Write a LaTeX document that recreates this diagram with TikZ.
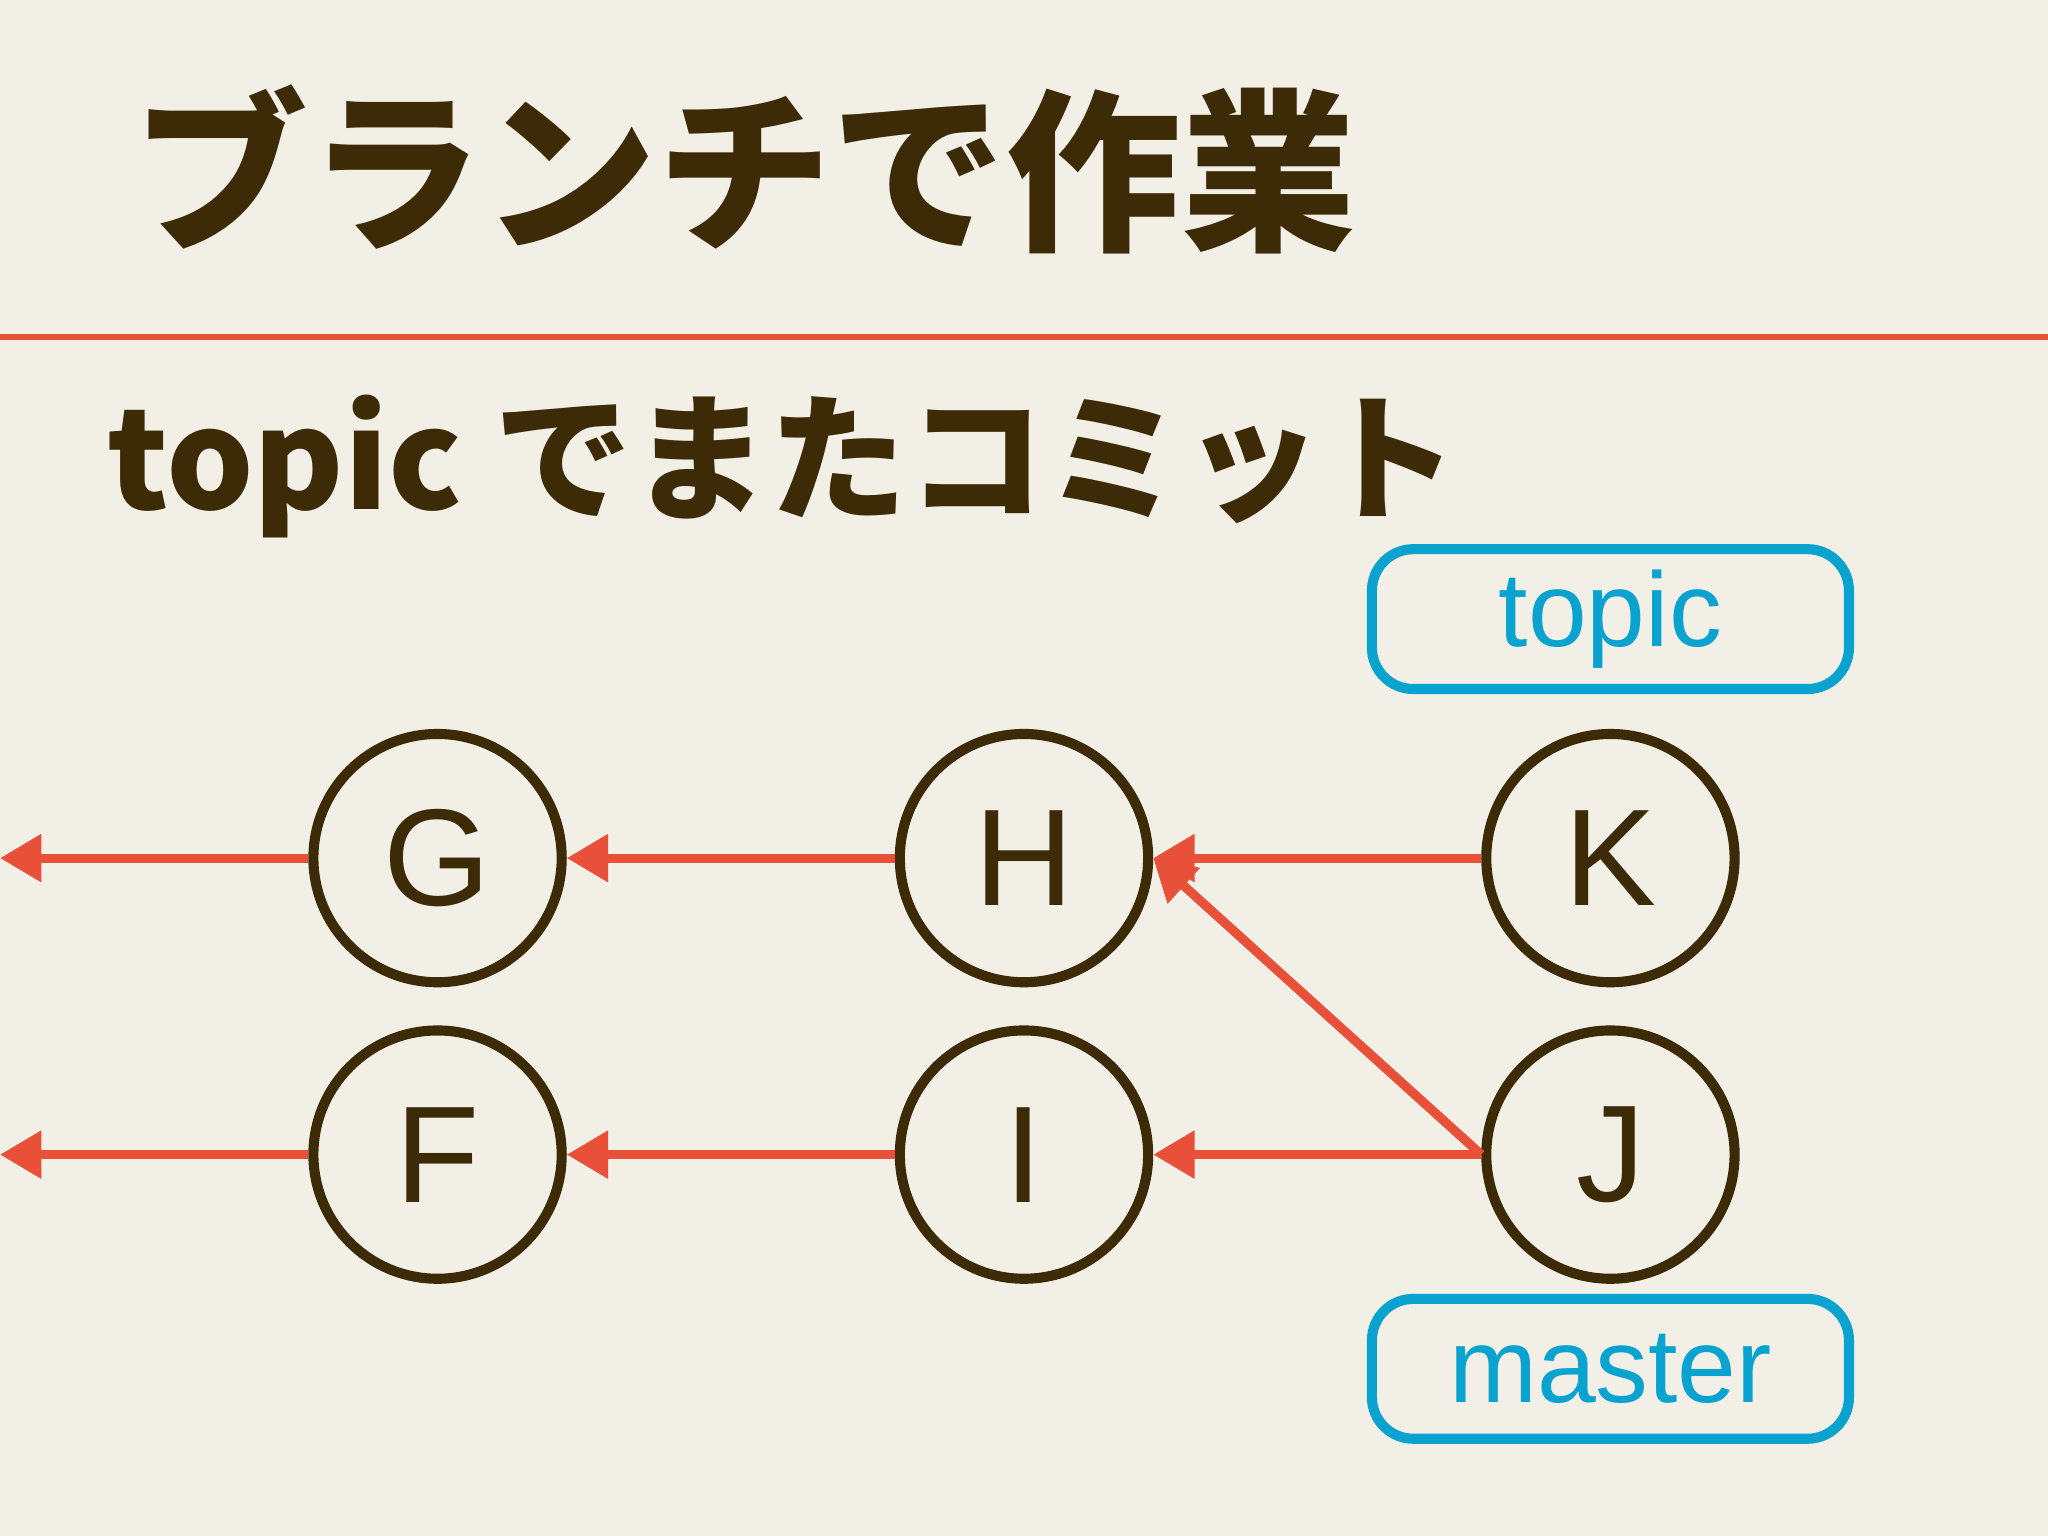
\documentclass[tikz,border=0pt]{standalone}
\usepackage{fontspec}
\setmainfont{Liberation Sans}
\newfontfamily\cjk{Noto Sans CJK JP}
\usetikzlibrary{arrows.meta}
\definecolor{bg}{HTML}{F2F0E6}
\definecolor{ink}{HTML}{3D2B08}
\definecolor{rd}{HTML}{E8503A}
\definecolor{bl}{HTML}{0AA3CF}
\begin{document}
\begin{tikzpicture}[x=0.01cm,y=-0.01cm,
  commit/.style={circle,draw=ink,line width=2.2pt,minimum size=1.9cm,inner sep=0pt,font=\fontsize{30}{30}\selectfont,text=ink},
  edge/.style={draw=rd,line width=2pt,-{Triangle[length=9pt,width=10pt]}},
  label/.style={draw=bl,line width=2.2pt,rounded corners=9pt,minimum width=3.65cm,minimum height=1.07cm,text=bl,font=\fontsize{23}{23}\selectfont}]
\fill[bg] (0,0) rectangle (1568,1176);
\useasboundingbox (0,0) rectangle (1568,1176);
\node[anchor=west,text=ink,font=\cjk\bfseries\fontsize{38}{38}\selectfont] (title) at (90,130) {ブランチで作業};
\draw[rd,line width=1.3pt] (0,258) -- (1568,258);
\node[anchor=west,text=ink,font=\cjk\bfseries\fontsize{30}{30}\selectfont] (sub) at (70,357) {topic でまたコミット};
\node[commit] (G) at (335,657) {G};
\node[commit] (H) at (784,657) {H};
\node[commit] (K) at (1233,657) {K};
\node[commit] (F) at (335,884) {F};
\node[commit] (I) at (784,884) {I};
\node[commit] (J) at (1233,884) {J};
\coordinate (g0) at (0,657);
\coordinate (f0) at (0,884);
\draw[edge] (K.west) -- (H.east);
\draw[edge] (H.west) -- (G.east);
\draw[edge] (G.west) -- (g0);
\draw[edge] (J.west) -- (I.east);
\draw[edge] (I.west) -- (F.east);
\draw[edge] (F.west) -- (f0);
\draw[edge] (J.west) -- (H.east);
\node[label] (topic) at (1233,474) {topic};
\node[label] (master) at (1233,1048) {master};
\end{tikzpicture}
\end{document}
